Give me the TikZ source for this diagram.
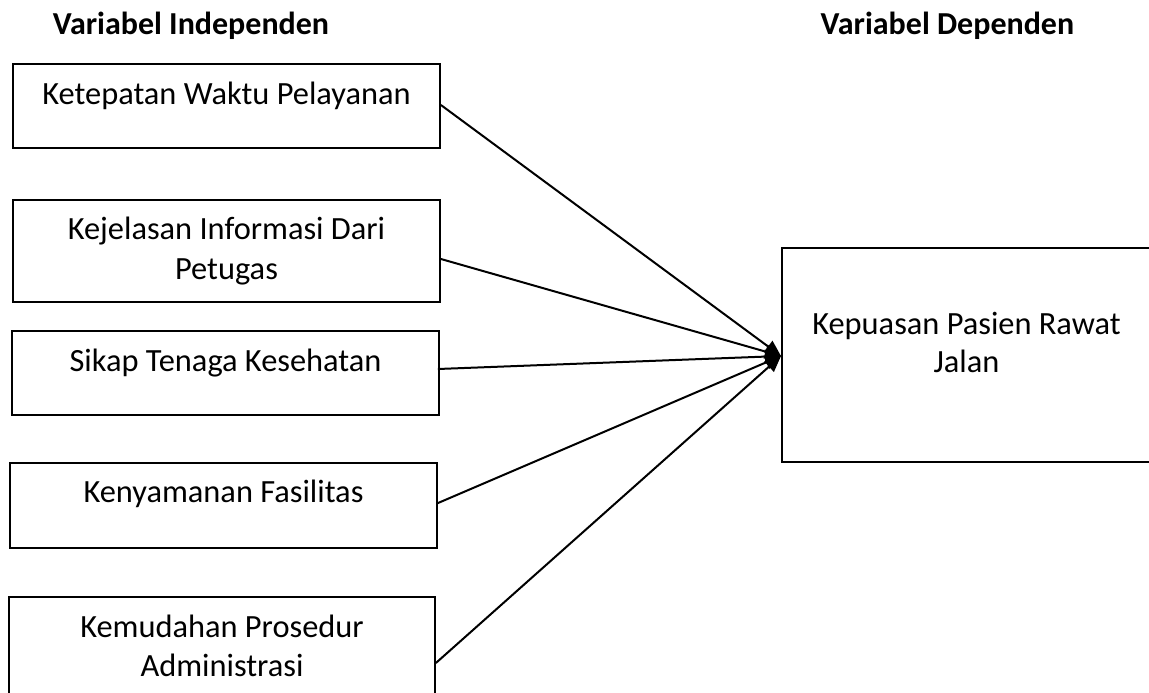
\documentclass[tikz,border=0pt]{standalone}
\usepackage{fontspec}
\setmainfont{Carlito}
\usetikzlibrary{arrows.meta}
\tikzset{
  box/.style={draw=black, line width=1.8pt, rectangle, inner sep=0pt},
  txt/.style={font=\fontsize{32.4}{39}\selectfont, inner sep=0pt, anchor=base},
  head/.style={font=\fontsize{32}{39}\selectfont\bfseries, inner sep=0pt, anchor=base},
  conn/.style={line width=2pt, -{Triangle[length=16pt,width=14pt]}}
}
\begin{document}
\begin{tikzpicture}[x=1pt,y=-1pt]
\useasboundingbox (0,0) rectangle (1149,693);
\clip (0,0) rectangle (1149,693);
\fill[white] (0,0) rectangle (1149,693);
\node[head] (hi) at (191,35) {Variabel Independen};
\node[head] (hd) at (947.5,35) {Variabel Dependen};
\node[box, minimum width=427pt, minimum height=84pt] (b1) at (226.5,106) {};
\node[txt] (t1) at ([yshift=-41pt]b1.north) {Ketepatan Waktu Pelayanan};
\node[box, minimum width=427pt, minimum height=102pt] (b2) at (226.5,251) {};
\node[txt] (t2a) at ([yshift=-40pt]b2.north) {Kejelasan Informasi Dari};
\node[txt] (t2b) at ([yshift=-80pt]b2.north) {Petugas};
\node[box, minimum width=427pt, minimum height=84pt] (b3) at (225.5,373) {};
\node[txt] (t3) at ([yshift=-41pt]b3.north) {Sikap Tenaga Kesehatan};
\node[box, minimum width=427pt, minimum height=85pt] (b4) at (223.5,505.5) {};
\node[txt] (t4) at ([yshift=-40pt]b4.north) {Kenyamanan Fasilitas};
\node[box, minimum width=426pt, minimum height=110pt] (b5) at (222,652) {};
\node[txt] (t5a) at ([yshift=-41pt]b5.north) {Kemudahan Prosedur};
\node[txt] (t5b) at ([yshift=-80pt]b5.north) {Administrasi};
\node[box, minimum width=372pt, minimum height=214pt] (r) at (968,355) {};
\node[txt] (tra) at ([xshift=-1.5pt,yshift=-87pt]r.north) {Kepuasan Pasien Rawat};
\node[txt] (trb) at ([xshift=-1.5pt,yshift=-125pt]r.north) {Jalan};
\coordinate (tip) at (781,356);
\draw[conn] ([yshift=1pt]b1.east) -- (tip);
\draw[conn] ([yshift=-8pt]b2.east) -- (tip);
\draw[conn] ([xshift=-2pt,yshift=4pt]b3.east) -- (tip);
\draw[conn] ([xshift=-1pt,yshift=2pt]b4.east) -- (tip);
\draw[conn] ([yshift=-11pt]b5.east) -- (tip);
\end{tikzpicture}
\end{document}
